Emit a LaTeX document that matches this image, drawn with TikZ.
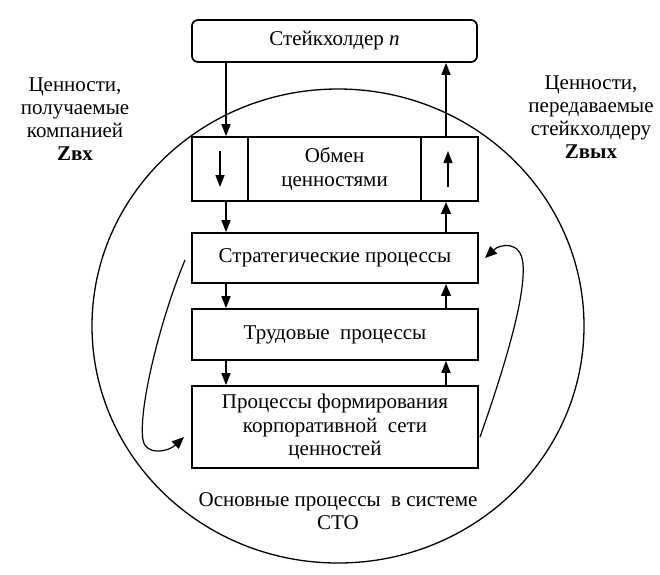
\documentclass[tikz,border=0pt]{standalone}
\usepackage{fontspec}
\setmainfont{Liberation Serif}
\usetikzlibrary{arrows.meta}
\begin{document}
\begin{tikzpicture}[x=1pt,y=-1pt,
  box/.style={draw,line width=1.7pt,fill=white,minimum width=286pt,inner sep=0pt,align=center,font=\fontsize{21}{23.5}\selectfont},
  cell/.style={draw,line width=1.7pt,inner sep=0pt,minimum height=64pt,align=center,font=\fontsize{21}{23.5}\selectfont},
  lbl/.style={align=center,font=\fontsize{21}{23}\selectfont},
  arr/.style={line width=1.4pt,-{Triangle[length=12pt,width=9pt]}},
  tarr/.style={line width=2.3pt,-{Triangle[length=12pt,width=9.5pt]}},
  carr/.style={line width=1.2pt,-{Triangle[length=12pt,width=10pt]}}]
\useasboundingbox (0,0) rectangle (660,574);
% ellipse
\draw[line width=1.3pt] (338,326) ellipse [x radius=246, y radius=237];
% boxes
\node[box,rounded corners=6pt,minimum width=285pt,minimum height=42pt] (stake) at (334.5,41) {Стейкхолдер \textit{n}};
\node[cell,minimum width=56pt] (exL) at (220,169) {};
\node[cell,minimum width=173pt] (exM) at (334.5,169) {Обмен\\ценностями};
\node[cell,minimum width=57pt] (exR) at (449.5,169) {};
\node[box,minimum height=50pt] (strat) at (335,258) {Стратегические процессы};
\node[box,minimum height=51pt] (trud) at (335,334.5) {Трудовые~ процессы};
\node[box,minimum height=82pt] (proc) at (335,427) {Процессы формирования\\корпоративной~ сети\\ценностей};
% side labels
\node[lbl] (lin) at (75,119) {Ценности,\\получаемые\\компанией\\\textbf{Zвх}};
\node[lbl] (lout) at (591,117) {Ценности,\\передаваемые\\стейкхолдеру\\\textbf{Zвых}};
\node[lbl] (lsys) at (338,511) {Основные процессы~ в системе\\СТО};
% vertical arrows
\draw[arr] (stake.south -| 226,0) -- (exL.north -| 226,0);
\draw[arr] (exR.north -| 446,0) -- (stake.south -| 446,0);
\draw[arr] (220,151) -- (220,187);
\draw[arr] (448,187) -- (448,151);
\draw[arr] (exL.south -| 226,0) -- (strat.north -| 226,0);
\draw[tarr] (strat.north -| 446,0) -- (exR.south -| 446,0);
\draw[arr] (strat.south -| 226,0) -- (trud.north -| 226,0);
\draw[tarr] (trud.north -| 446,0) -- (strat.south -| 446,0);
\draw[arr] (trud.south -| 226,0) -- (proc.north -| 226,0);
\draw[arr] (proc.north -| 446,0) -- (trud.south -| 446,0);
% curved arrows
\coordinate (ls) at (185,260);
\coordinate (le) at (184,437);
\coordinate (rs) at (480,437);
\coordinate (re) at (485,258);
\draw[carr] (ls) .. controls (160,320) and (138,410) .. (143,440) .. controls (146,456) and (168,452) .. (le);
\draw[carr] (rs) .. controls (500,380) and (526,300) .. (523,264) .. controls (521,240) and (500,244) .. (re);
\end{tikzpicture}
\end{document}
